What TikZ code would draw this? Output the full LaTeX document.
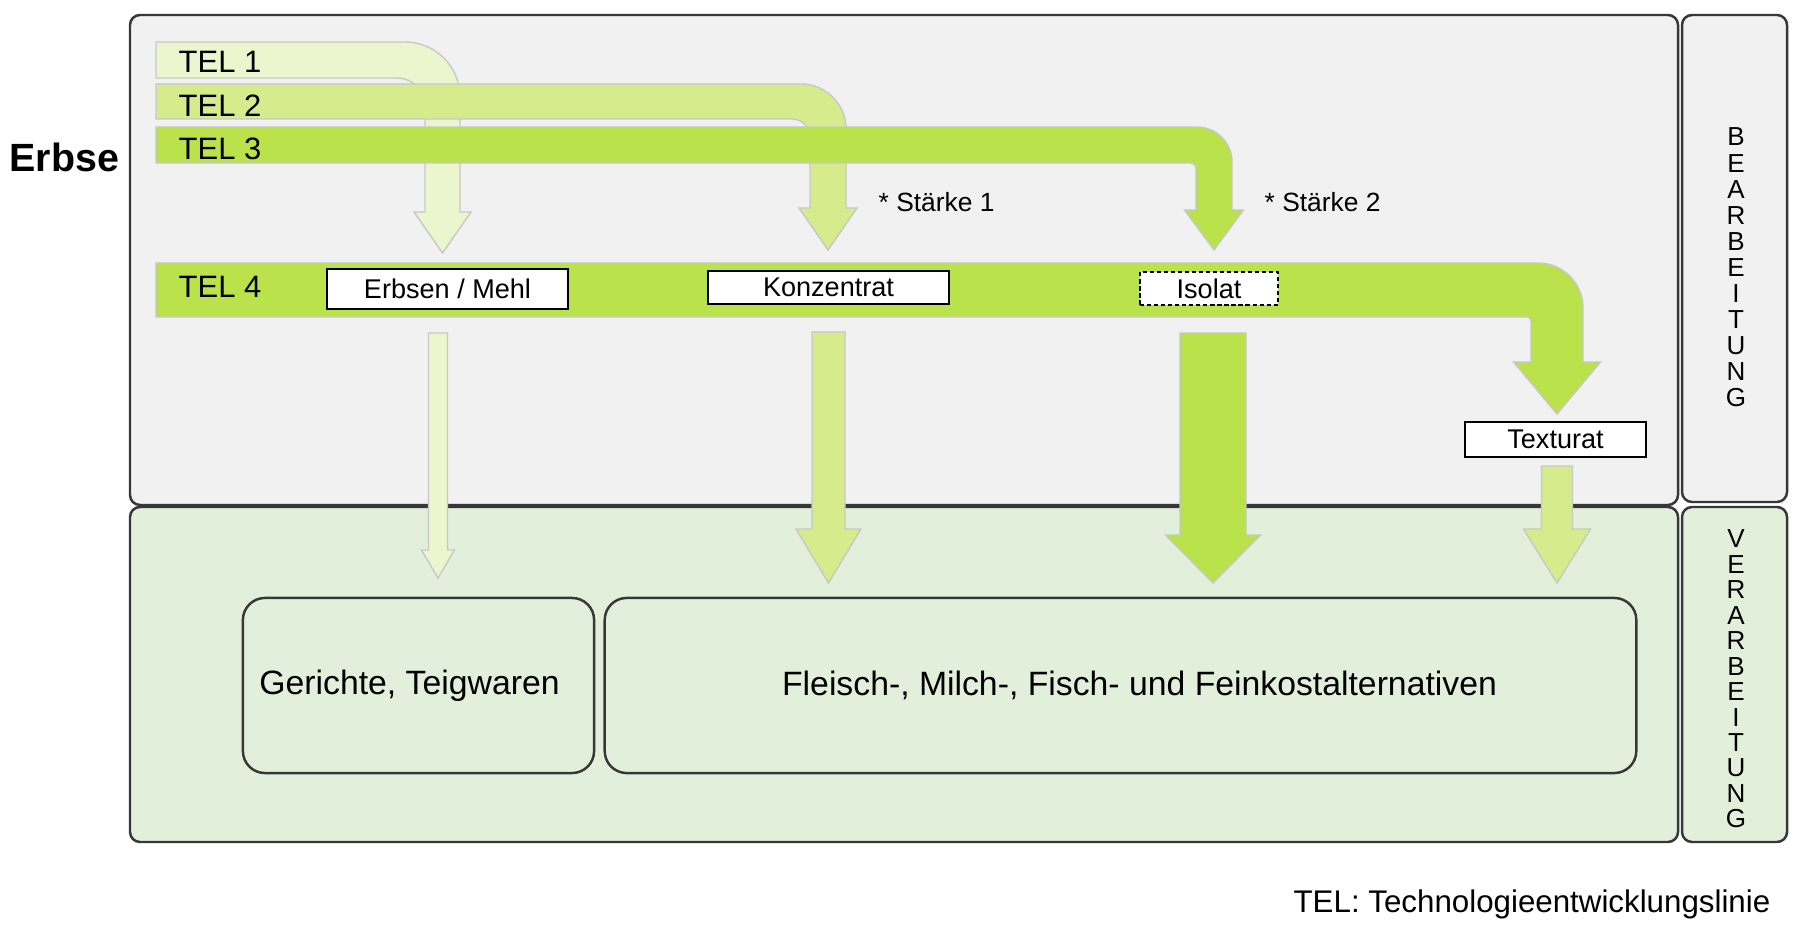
\documentclass[tikz,border=0pt]{standalone}
\usepackage{fontspec}
\setmainfont{Liberation Sans}
\usepackage{tikz}
\definecolor{telA}{RGB}{235,246,206}
\definecolor{telB}{RGB}{213,235,140}
\definecolor{telC}{RGB}{185,226,75}
\definecolor{panelgrey}{RGB}{241,241,241}
\definecolor{panelgreen}{RGB}{226,239,218}
\definecolor{arrowline}{RGB}{200,200,200}
\definecolor{frameline}{RGB}{55,55,55}
% block arrow pointing down: x, shaft half, top, wing y, head half, tip, colour
\newcommand{\DownArrow}[7]{%
    \path[tel arrow=#7] ({#1-#2},#3) -- ({#1+#2},#3) -- ({#1+#2},#4) -- ({#1+#5},#4)
        -- (#1,#6) -- ({#1-#5},#4) -- ({#1-#2},#4) -- cycle;
}

\begin{document}
\begin{tikzpicture}[x=0.01cm, y=-0.01cm,
    tel arrow/.style={fill=#1, draw=arrowline, line width=0.4pt},
    panel/.style={draw=frameline, line width=0.7pt, rounded corners=0.1cm},
    label/.style={inner sep=0pt, font=\fontsize{8.8}{10}\selectfont},
    note/.style={inner sep=0pt, font=\fontsize{7.5}{9}\selectfont},
    stepbox/.style={draw=black, fill=white, line width=0.7pt, inner sep=0pt,
        font=\fontsize{7.7}{9}\selectfont},
    productbox/.style={draw=frameline, line width=0.7pt, rounded corners=0.22cm,
        inner sep=0pt, minimum height=1.75cm, font=\fontsize{9.6}{11}\selectfont},
    sideletter/.style={inner sep=0pt, font=\fontsize{7.4}{8}\selectfont}]
    \useasboundingbox (0,0) rectangle (1800,928);

    % Panels
    \draw[panel, fill=panelgrey] (130,15) rectangle (1678,505);
    \draw[panel, fill=panelgreen] (130,507) rectangle (1678,842);
    \draw[panel, fill=panelgrey] (1682,15) rectangle (1787,502);
    \draw[panel, fill=panelgreen] (1682,507) rectangle (1787,842);

    \foreach \ch [count=\i] in {B,E,A,R,B,E,I,T,U,N,G}
        \node[sideletter] (bear\i) at (1736,{137+(\i-1)*26.1}) {\ch};
    \foreach \ch [count=\i] in {V,E,R,A,R,B,E,I,T,U,N,G}
        \node[sideletter] (verar\i) at (1736,{539+(\i-1)*25.45}) {\ch};

    \node[anchor=base west, inner sep=0pt, font=\bfseries\fontsize{11.2}{13}\selectfont]
        (erbse) at (9,172) {Erbse};

    % TEL 1 to 3, later ones on top
    \path[tel arrow=telA] (156,42) -- (405,42) arc (-90:0:55) -- (460,212) -- (471,212)
        -- (442.5,253) -- (414,212) -- (425,212) -- (425,106) arc (0:-90:28) -- (156,78) -- cycle;
    \path[tel arrow=telB] (156,84) -- (801,84) arc (-90:0:45) -- (846,208) -- (857,208)
        -- (828,250) -- (799,208) -- (810,208) -- (810,137) arc (0:-90:18) -- (156,119) -- cycle;
    \path[tel arrow=telC] (156,127) -- (1197,127) arc (-90:0:35) -- (1232,210) -- (1243.5,210)
        -- (1214,250) -- (1184.5,210) -- (1196,210) -- (1196,168) arc (0:-90:5) -- (156,163) -- cycle;
    % TEL 4
    \path[tel arrow=telC] (156,263) -- (1538,263) arc (-90:0:45) -- (1583,362) -- (1600.5,362)
        -- (1557,414) -- (1513.5,362) -- (1531,362) -- (1531,321) arc (0:-90:4) -- (156,317) -- cycle;

    \node[label, anchor=base west] (tel1) at (178,73) {TEL 1};
    \node[label, anchor=base west] (tel2) at (178,117) {TEL 2};
    \node[label, anchor=base west] (tel3) at (178,160) {TEL 3};
    \node[label, anchor=base west] (tel4) at (178,298) {TEL 4};

    \node[note, anchor=base west] (staerke1) at (878,212) {* Stärke 1};
    \node[note, anchor=base west] (staerke2) at (1264,212) {* Stärke 2};

    \node[stepbox, minimum width=2.41cm, minimum height=0.40cm] (mehl) at (447.5,289) {Erbsen / Mehl};
    \node[stepbox, minimum width=2.41cm, minimum height=0.33cm] (konzentrat) at (828.5,287.5) {Konzentrat};
    \node[stepbox, minimum width=1.38cm, minimum height=0.33cm,
        dash pattern=on 1.2pt off 0.8pt] (isolat) at (1209,288.5) {Isolat};
    \node[stepbox, minimum width=1.81cm, minimum height=0.35cm] (texturat) at (1555.5,439.5) {Texturat};

    % down to the products
    \DownArrow{438}{9.5}{333}{550}{16.5}{578}{telA}
    \DownArrow{828.5}{16.5}{332}{529}{32.5}{583}{telB}
    \DownArrow{1213}{33}{333}{535}{47.5}{583}{telC}
    \DownArrow{1557}{15.5}{466}{529}{33.5}{583}{telB}

    \node[productbox, minimum width=3.51cm] (gerichte) at (418.5,685.5)
        {Gerichte, Teigwaren\hspace*{0.18cm}};
    \node[productbox, minimum width=10.31cm] (alternativen) at (1120.5,685.5)
        {\hspace*{0.38cm}Fleisch-, Milch-, Fisch- und Feinkostalternativen};

    \node[label, anchor=base east, font=\fontsize{8.9}{10}\selectfont]
        (legende) at (1771,912) {TEL: Technologieentwicklungslinie};
\end{tikzpicture}
\end{document}
